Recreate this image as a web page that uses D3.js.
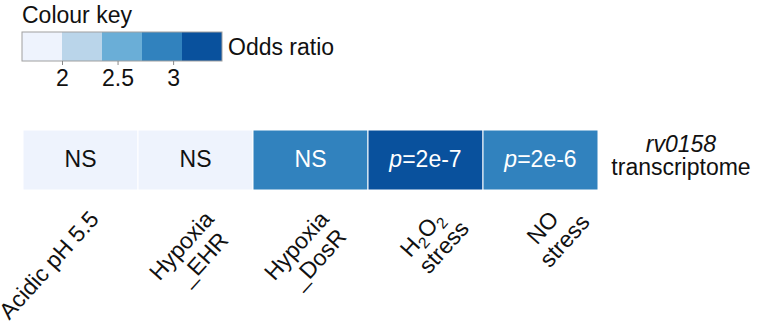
<!DOCTYPE html>
<html>
<head>
<meta charset="utf-8">
<script src="https://cdn.jsdelivr.net/npm/d3@7"></script>
<style>
  html, body { margin: 0; padding: 0; background: #fff; }
  svg { display: block; font-family: "Liberation Sans", Arial, sans-serif; }
</style>
</head>
<body>
<svg id="chart" width="760" height="325"></svg>
<script>
// ---------- data ----------
const conditions = ["Acidic pH 5.5", "Hypoxia_EHR", "Hypoxia_DosR", "H2O2 stress", "NO stress"];
const conditionLines = [
  ["Acidic pH 5.5"],
  ["Hypoxia", "_EHR"],
  ["Hypoxia", "_DosR"],
  ["H_{2}O_{2}", "stress"],
  ["NO", "stress"]
];
const oddsRatios = [1.8, 1.85, 2.9, 3.3, 2.9];
const annotations = ["NS", "NS", "NS", "p=2e-7", "p=2e-6"];
const rowLabel = ["rv0158", "transcriptome"];
const legendTitle = "Colour key";
const legendLabel = "Odds ratio";
const legendDomain = [1.64, 3.44];
const legendTicks = [2, 2.5, 3];
const legendTickLabels = ["2", "2.5", "3"];
const palette = ["#eef3fd", "#bad5ea", "#6aaed7", "#3182be", "#09519d"];

// ---------- setup ----------
const svg = d3.select("#chart");
const FS = 23;

const color = d3.scaleQuantize().domain(legendDomain).range(palette);

// ---------- legend ----------
const lx = d3.scaleLinear().domain(legendDomain).range([22, 222]);
const legY = 32, legH = 29;

svg.append("text")
  .attr("x", 22).attr("y", 23)
  .attr("font-size", FS).attr("fill", "#111")
  .text(legendTitle);

const step = (legendDomain[1] - legendDomain[0]) / palette.length;
const bins = palette.map((c, i) => ({c, x0: legendDomain[0] + i * step, x1: legendDomain[0] + (i + 1) * step}));
svg.append("g").selectAll("rect").data(bins).join("rect")
  .attr("x", d => lx(d.x0)).attr("y", legY)
  .attr("width", d => lx(d.x1) - lx(d.x0)).attr("height", legH)
  .attr("fill", d => d.c);
svg.append("rect")
  .attr("x", lx(legendDomain[0])).attr("y", legY)
  .attr("width", lx(legendDomain[1]) - lx(legendDomain[0])).attr("height", legH)
  .attr("fill", "none").attr("stroke", "#a0a0a0").attr("stroke-width", 1);

const legAxis = d3.axisBottom(lx).tickValues(legendTicks)
  .tickFormat((d, i) => legendTickLabels[i]).tickSize(4).tickPadding(5);
const ag = svg.append("g").attr("transform", `translate(0,${legY + legH})`).call(legAxis);
ag.select(".domain").remove();
ag.selectAll(".tick line").attr("stroke", "#888");
ag.selectAll(".tick text").attr("font-size", FS).attr("fill", "#111")
  .attr("font-family", "'Liberation Sans', Arial, sans-serif").attr("dy", "0.71em");

svg.append("text")
  .attr("x", 228).attr("y", 55)
  .attr("font-size", FS).attr("fill", "#111")
  .text(legendLabel);

// ---------- heatmap row ----------
const x = d3.scaleBand().domain(conditions).range([23, 598]).paddingInner(0);
const rowY = 130, rowH = 60;

svg.append("g").selectAll("rect").data(conditions).join("rect")
  .attr("x", d => x(d)).attr("y", rowY)
  .attr("width", x.bandwidth()).attr("height", rowH)
  .attr("fill", (d, i) => color(oddsRatios[i]))
  .attr("stroke", "#fff").attr("stroke-width", 1);

function isDark(v) { return palette.indexOf(color(v)) >= 3; }

const ann = svg.append("g").selectAll("text").data(conditions).join("text")
  .attr("x", d => x(d) + x.bandwidth() / 2)
  .attr("y", rowY + 37)
  .attr("text-anchor", "middle")
  .attr("font-size", FS)
  .attr("fill", (d, i) => isDark(oddsRatios[i]) ? "#fff" : "#111");
ann.each(function(d, i) {
  const t = d3.select(this);
  const s = annotations[i];
  if (s.startsWith("p=")) {
    t.append("tspan").attr("font-style", "italic").text("p");
    t.append("tspan").text(s.slice(1));
  } else {
    t.text(s);
  }
});

// row label
const rl = svg.append("text")
  .attr("x", 681).attr("text-anchor", "middle")
  .attr("font-size", FS).attr("fill", "#111");
rl.append("tspan").attr("x", 681).attr("y", 152).attr("font-style", "italic").text(rowLabel[0]);
rl.append("tspan").attr("x", 681).attr("y", 175).text(rowLabel[1]);

// ---------- rotated condition labels ----------
function appendRich(textSel, line) {
  const parts = line.split(/(_\{[^}]*\})/).filter(p => p.length);
  parts.forEach(p => {
    const m = p.match(/^_\{([^}]*)\}$/);
    if (m) {
      textSel.append("tspan").attr("font-size", FS * 0.68).attr("dy", 5).text(m[1]);
      textSel.append("tspan").attr("dy", -5).text("\u200B");
    } else {
      textSel.append("tspan").text(p);
    }
  });
}

const lg = svg.append("g");
conditions.forEach((c, i) => {
  const ax = x(c) + x.bandwidth() / 2 + 19.5;
  const ay = 220;
  const g = lg.append("g").attr("transform", `translate(${ax},${ay}) rotate(-48)`);
  const lines = conditionLines[i];
  const t1 = g.append("text")
    .attr("x", 0).attr("y", 0)
    .attr("text-anchor", "end")
    .attr("font-size", FS).attr("fill", "#111");
  appendRich(t1, lines[0]);
  const w1 = t1.node().getComputedTextLength();
  if (lines.length > 1) {
    const t2 = g.append("text")
      .attr("x", -w1 / 2 + 5).attr("y", 25)
      .attr("text-anchor", "middle")
      .attr("font-size", FS).attr("fill", "#111");
    appendRich(t2, lines[1]);
  }
});
</script>
</body>
</html>
